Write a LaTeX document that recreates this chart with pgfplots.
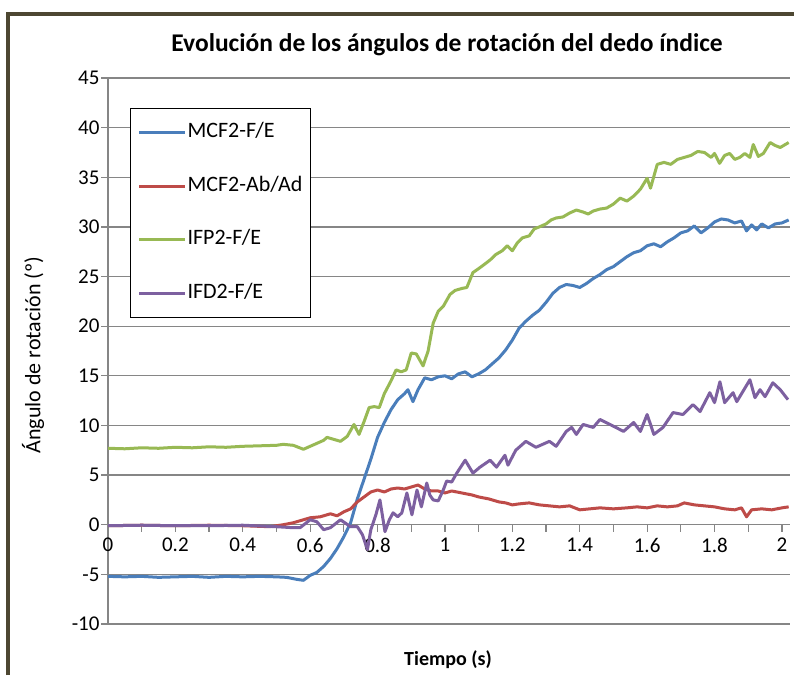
\documentclass[border=0pt]{standalone}
\usepackage{pgfplots}
\pgfplotsset{compat=1.18}
\usepackage{fontspec}
\setmainfont{Carlito}
\definecolor{cblue}{HTML}{4A7EBB}
\definecolor{cred}{HTML}{BE4B48}
\definecolor{cgreen}{HTML}{98B954}
\definecolor{cpurple}{HTML}{7D60A0}
\definecolor{cgrid}{HTML}{868686}
\definecolor{cframe}{HTML}{4D4732}
\begin{document}
\begin{tikzpicture}
\path[use as bounding box] (0pt,0pt) rectangle (794pt,675pt);
\fill[white] (0pt,0pt) rectangle (794pt,675pt);
\draw[cframe, line width=3.5pt, line join=miter] (8pt,0pt) -- (8pt,661pt) -- (800pt,661pt);
\begin{axis}[
  at={(108pt,51pt)}, anchor=south west,
  scale only axis, width=682pt, height=546pt,
  xmin=0, xmax=2.024, ymin=-10, ymax=45,
  axis y line*=left, axis x line*=middle,
  axis line style={-, cgrid, line width=1.2pt},
  hide obscured x ticks=false, hide obscured y ticks=false,
  ytick={-10,-5,0,5,10,15,20,25,30,35,40,45},
  xtick={0,0.2,0.4,0.6,0.8,1,1.2,1.4,1.6,1.8,2},
  xticklabels={0,0.2,0.4,0.6,0.8,1,1.2,1.4,1.6,1.8,2},
  minor xtick={0.1,0.3,0.5,0.7,0.9,1.1,1.3,1.5,1.7,1.9},
  ymajorgrids,
  grid style={cgrid, line width=1.2pt},
  tick align=outside,
  major tick length=7pt, minor tick length=7pt,
  tick style={cgrid, line width=1.2pt},
  every tick/.style={cgrid, line width=1.2pt},
  /pgf/number format/assume math mode=true,
  ticklabel style={font=\fontsize{21}{25}\selectfont, text=black},
  xticklabel style={yshift=-3pt},
  yticklabel style={xshift=2pt},
  clip=true,
  legend style={at={(0.0323,0.945)}, anchor=north west, draw=black, line width=1pt,
    font=\fontsize{22}{26}\selectfont, inner xsep=7pt, inner ysep=13pt,
    row sep=31.7pt, nodes={inner sep=1pt, text height=15pt, text depth=5pt}},
  legend cell align=left,
  legend image code/.code={\draw[#1, line width=3pt] (0pt,0pt) -- (43pt,0pt);\path (0pt,0pt) -- (46pt,0pt);},
  every axis plot/.append style={line width=3pt, line join=round},
]
\addplot[cblue] coordinates {
(0,-5.2)(0.05,-5.25)(0.1,-5.2)(0.15,-5.3)(0.2,-5.25)(0.25,-5.2)(0.3,-5.3)(0.35,-5.2)(0.4,-5.25)(0.45,-5.2)(0.5,-5.25)(0.53,-5.3)(0.56,-5.5)(0.58,-5.6)(0.6,-5.1)(0.62,-4.8)(0.64,-4.2)(0.66,-3.4)(0.68,-2.4)(0.70,-1.2)(0.72,0.2)(0.74,2.6)(0.76,4.6)(0.78,6.6)(0.80,8.8)(0.82,10.3)(0.84,11.6)(0.86,12.6)(0.88,13.2)(0.89,13.6)(0.905,12.4)(0.92,13.6)(0.94,14.8)(0.96,14.6)(0.98,14.9)(1.0,15.0)(1.02,14.7)(1.04,15.2)(1.06,15.4)(1.08,14.9)(1.10,15.2)(1.12,15.6)(1.14,16.2)(1.16,16.8)(1.18,17.6)(1.20,18.6)(1.22,19.8)(1.24,20.5)(1.26,21.1)(1.28,21.6)(1.30,22.4)(1.32,23.3)(1.34,23.9)(1.36,24.2)(1.38,24.1)(1.40,23.9)(1.42,24.3)(1.44,24.8)(1.46,25.2)(1.48,25.7)(1.50,26.0)(1.52,26.5)(1.54,27.0)(1.56,27.4)(1.58,27.6)(1.60,28.1)(1.62,28.3)(1.64,28.0)(1.66,28.5)(1.68,28.9)(1.70,29.4)(1.72,29.6)(1.74,30.1)(1.76,29.4)(1.78,29.9)(1.80,30.5)(1.82,30.8)(1.84,30.7)(1.86,30.4)(1.88,30.6)(1.895,29.6)(1.91,30.2)(1.925,29.7)(1.94,30.3)(1.96,29.9)(1.98,30.3)(2.0,30.4)(2.02,30.7)};
\addlegendentry{MCF2-F/E}
\addplot[cred] coordinates {
(0,-0.1)(0.1,-0.05)(0.2,-0.1)(0.3,-0.05)(0.4,-0.1)(0.48,-0.2)(0.52,0.0)(0.55,0.2)(0.58,0.5)(0.60,0.7)(0.63,0.8)(0.66,1.1)(0.68,0.9)(0.70,1.3)(0.72,1.6)(0.74,2.3)(0.76,2.8)(0.78,3.3)(0.80,3.5)(0.82,3.3)(0.84,3.6)(0.86,3.7)(0.88,3.6)(0.90,3.8)(0.92,4.0)(0.94,3.6)(0.96,3.4)(0.98,3.4)(1.0,3.2)(1.02,3.4)(1.05,3.2)(1.08,3.0)(1.10,2.8)(1.13,2.6)(1.16,2.3)(1.18,2.2)(1.20,2.0)(1.22,2.1)(1.25,2.2)(1.28,2.0)(1.31,1.9)(1.34,1.8)(1.37,1.9)(1.40,1.5)(1.43,1.6)(1.46,1.7)(1.50,1.6)(1.54,1.7)(1.57,1.8)(1.60,1.7)(1.63,1.9)(1.66,1.8)(1.69,1.9)(1.71,2.2)(1.74,2.0)(1.77,1.9)(1.80,1.8)(1.83,1.6)(1.86,1.5)(1.88,1.7)(1.895,0.8)(1.91,1.5)(1.94,1.6)(1.97,1.5)(2.0,1.7)(2.02,1.8)};
\addlegendentry{MCF2-Ab/Ad}
\addplot[cgreen] coordinates {
(0,7.7)(0.05,7.65)(0.1,7.75)(0.15,7.7)(0.2,7.8)(0.25,7.75)(0.3,7.85)(0.35,7.8)(0.4,7.9)(0.45,7.95)(0.5,8.0)(0.52,8.1)(0.55,8.0)(0.58,7.6)(0.6,7.9)(0.62,8.2)(0.64,8.5)(0.65,8.8)(0.67,8.6)(0.69,8.4)(0.71,8.9)(0.73,10.1)(0.745,9.1)(0.76,10.4)(0.775,11.8)(0.79,11.9)(0.805,11.8)(0.82,13.2)(0.84,14.5)(0.855,15.6)(0.87,15.4)(0.885,15.6)(0.90,17.3)(0.915,17.2)(0.935,16.0)(0.95,17.5)(0.965,20.3)(0.98,21.5)(0.995,22.0)(1.015,23.2)(1.03,23.6)(1.05,23.8)(1.065,23.9)(1.083,25.4)(1.10,25.8)(1.12,26.3)(1.135,26.7)(1.15,27.2)(1.17,27.6)(1.185,28.1)(1.20,27.6)(1.215,28.4)(1.23,28.9)(1.25,29.1)(1.265,29.8)(1.28,30.0)(1.30,30.3)(1.315,30.7)(1.33,30.9)(1.35,31.0)(1.37,31.4)(1.39,31.7)(1.41,31.5)(1.425,31.3)(1.44,31.6)(1.46,31.8)(1.48,31.9)(1.50,32.3)(1.52,32.9)(1.54,32.6)(1.56,33.1)(1.58,33.8)(1.60,34.9)(1.61,33.9)(1.63,36.3)(1.65,36.5)(1.67,36.3)(1.69,36.8)(1.71,37.0)(1.73,37.2)(1.75,37.6)(1.77,37.5)(1.79,37.0)(1.80,37.4)(1.815,36.4)(1.83,37.2)(1.845,37.4)(1.86,36.8)(1.875,37.0)(1.89,37.4)(1.905,37.0)(1.915,38.3)(1.93,37.1)(1.945,37.4)(1.965,38.5)(1.98,38.2)(1.995,38.0)(2.01,38.3)(2.02,38.5)};
\addlegendentry{IFP2-F/E}
\addplot[cpurple] coordinates {
(0,-0.1)(0.1,-0.05)(0.2,-0.1)(0.3,-0.1)(0.4,-0.05)(0.5,-0.2)(0.55,-0.3)(0.57,-0.3)(0.60,0.5)(0.62,0.3)(0.64,-0.5)(0.66,-0.3)(0.69,0.5)(0.72,-0.2)(0.74,-0.2)(0.755,-1.0)(0.77,-2.5)(0.78,-0.5)(0.795,1.0)(0.807,2.5)(0.822,-0.7)(0.835,0.5)(0.846,1.2)(0.86,0.8)(0.872,1.2)(0.887,3.2)(0.902,1.0)(0.917,3.5)(0.93,1.8)(0.946,4.2)(0.955,3.0)(0.965,2.5)(0.98,2.4)(0.995,3.5)(1.005,4.4)(1.02,4.3)(1.035,5.2)(1.06,6.5)(1.083,5.2)(1.104,5.8)(1.134,6.5)(1.153,5.8)(1.178,7.0)(1.187,6.0)(1.21,7.5)(1.24,8.4)(1.27,7.8)(1.31,8.4)(1.33,7.9)(1.36,9.4)(1.376,9.8)(1.39,9.1)(1.41,10.1)(1.44,9.8)(1.46,10.6)(1.49,10.1)(1.53,9.4)(1.56,10.3)(1.58,9.4)(1.60,11.1)(1.62,9.1)(1.647,9.8)(1.677,11.3)(1.706,11.1)(1.736,12.1)(1.757,11.4)(1.786,13.3)(1.80,12.3)(1.816,14.4)(1.83,12.3)(1.855,13.3)(1.866,12.4)(1.905,14.6)(1.92,12.8)(1.935,13.6)(1.95,12.9)(1.973,14.3)(1.995,13.6)(2.018,12.6)};
\addlegendentry{IFD2-F/E}
\end{axis}
\node[font=\bfseries\fontsize{25.5}{30}\selectfont] at (447pt,630pt) {Evolución de los ángulos de rotación del dedo índice};
\node[font=\fontsize{22}{26}\selectfont, rotate=90] at (33pt,320pt) {Ángulo de rotación (º)};
\node[font=\bfseries\fontsize{20}{24}\selectfont] at (448pt,15pt) {Tiempo (s)};
\end{tikzpicture}
\end{document}
